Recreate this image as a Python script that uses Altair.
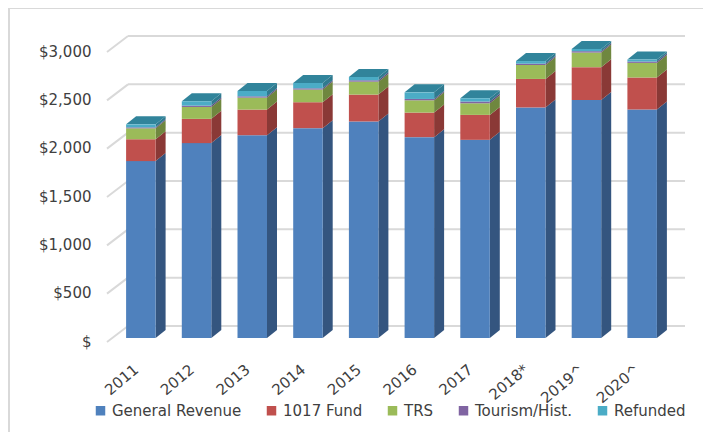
import json
import altair as alt
import pandas as pd

# ---------------- data (millions of dollars) ----------------
years = ["2011", "2012", "2013", "2014", "2015", "2016", "2017", "2018*", "2019^", "2020^"]
general_revenue = [1830, 2016, 2098, 2171, 2240, 2078, 2050, 2385, 2461, 2364]
fund_1017 = [226, 251, 265, 268, 278, 254, 258, 295, 341, 331]
trs = [113, 123, 124, 131, 134, 127, 120, 144, 151, 151]
tourism_hist = [10, 14, 13, 13, 14, 14, 18, 14, 14, 14]
refunded = [31, 45, 55, 55, 34, 68, 34, 27, 23, 20]
series_names = ["General Revenue", "1017 Fund", "TRS", "Tourism/Hist.", "Refunded"]
y_ticks = [0, 500, 1000, 1500, 2000, 2500, 3000]

# ---------------- styles / geometry ----------------
front_colors = ["#4F81BD", "#C0504D", "#9BBB59", "#8064A2", "#4BACC6"]
side_colors = ["#34557F", "#8A3936", "#6F873F", "#5B4776", "#2F7A8F"]
top_color = "#31849B"
grid_color = "#D9D9D9"
text_color = "#404040"
FONT = "DejaVu Sans"

PLOT_W, PLOT_H, Y_MAX = 557, 290, 3000
px_x = PLOT_W / len(years)
px_y = PLOT_H / Y_MAX
HALF = 14.75 / px_x       # half bar width in x units
DX = 10 / px_x            # depth shift, x units
DY = 8 / px_y             # depth shift, value units

all_series = [general_revenue, fund_1017, trs, tourism_hist, refunded]

front_rows, side_rows, top_rows = [], [], []
for i, yr in enumerate(years):
    c = i + 0.5
    base = 0
    for s, vals in zip(series_names, all_series):
        v = vals[i]
        front_rows.append(dict(year=yr, series=s, x=c - HALF, x2=c + HALF, y=base, y2=base + v))
        key = f"{yr}|{s}"
        side_rows.append(dict(key=key, series=s, x=c + HALF, y=base, y2=base + v))
        side_rows.append(dict(key=key, series=s, x=c + HALF + DX, y=base + DY, y2=base + v + DY))
        base += v
    top_rows.append(dict(key=yr, y=base, x=c - HALF, x2=c + HALF))
    top_rows.append(dict(key=yr, y=base + DY, x=c - HALF + DX, x2=c + HALF + DX))

front_df = pd.DataFrame(front_rows)
side_df = pd.DataFrame(side_rows)
top_df = pd.DataFrame(top_rows)
tick_df = pd.DataFrame({"v": y_ticks})

xs = alt.Scale(domain=[0, len(years)], nice=False, zero=False)
ys = alt.Scale(domain=[0, Y_MAX], nice=False)

label_expr = json.dumps(years) + "[floor(datum.value)]"
x_axis = alt.Axis(
    values=[i + 0.5 for i in range(len(years))], labelExpr=label_expr, title=None,
    domain=False, ticks=False, grid=False, labelAngle=-40, labelAlign="right",
    labelBaseline="middle", labelPadding=29, labelOffset=-5)
y_axis = alt.Axis(
    values=y_ticks, title=None, domain=False, ticks=False, grid=False,
    labelExpr="datum.value == 0 ? '$' : '$' + format(datum.value, ',')",
    labelPadding=22, labelOffset=3)

frame = alt.Chart(pd.DataFrame({"a": [0]})).mark_rect(
    fillOpacity=0, stroke=grid_color, strokeWidth=2
).encode(x=alt.value(-104), x2=alt.value(597), y=alt.value(-40), y2=alt.value(420))

grid = alt.Chart(tick_df).mark_rule(color=grid_color, strokeWidth=2, yOffset=-12).encode(
    y=alt.Y("v:Q", scale=ys, axis=y_axis), x=alt.value(15), x2=alt.value(572)
)
diag = alt.Chart(tick_df).mark_rule(color=grid_color, strokeWidth=2, yOffset=4, y2Offset=-12).encode(
    y=alt.Y("v:Q", scale=ys, axis=y_axis), y2="v:Q", x=alt.value(-6), x2=alt.value(15)
)

sides = alt.Chart(side_df).mark_area(orient="vertical").encode(
    x=alt.X("x:Q", scale=xs, axis=x_axis),
    y=alt.Y("y:Q", scale=ys, axis=y_axis),
    y2="y2:Q",
    detail="key:N",
    color=alt.Color("series:N", scale=alt.Scale(domain=series_names, range=side_colors), legend=None),
)

tops = alt.Chart(top_df).mark_area(orient="horizontal", color=top_color).encode(
    y=alt.Y("y:Q", scale=ys, axis=y_axis),
    x=alt.X("x:Q", scale=xs, axis=x_axis),
    x2="x2:Q",
    detail="key:N",
)

fronts = alt.Chart(front_df).mark_rect().encode(
    x=alt.X("x:Q", scale=xs, axis=x_axis),
    x2="x2:Q",
    y=alt.Y("y:Q", scale=ys, axis=y_axis),
    y2="y2:Q",
    color=alt.Color("series:N", scale=alt.Scale(domain=series_names, range=front_colors),
                    sort=series_names,
                    legend=alt.Legend(title=None, orient="none", legendX=-20, legendY=355,
                                      direction="horizontal", symbolType="square",
                                      symbolSize=90, symbolStrokeWidth=0, columnPadding=22,
                                      labelFontSize=15, labelFont=FONT, labelColor=text_color)),
)

chart = alt.layer(frame, grid, diag, sides, tops, fronts).resolve_scale(color="independent").properties(
    width=PLOT_W, height=PLOT_H,
    autosize=alt.AutoSizeParams(type="none"),
    padding={"left": 105, "top": 40, "right": 33, "bottom": 94},
).configure_view(stroke=None).configure_axis(
    labelFont=FONT, labelFontSize=15, labelColor=text_color
)

chart.save("out.html", embed_options={"renderer": "svg", "actions": False})
